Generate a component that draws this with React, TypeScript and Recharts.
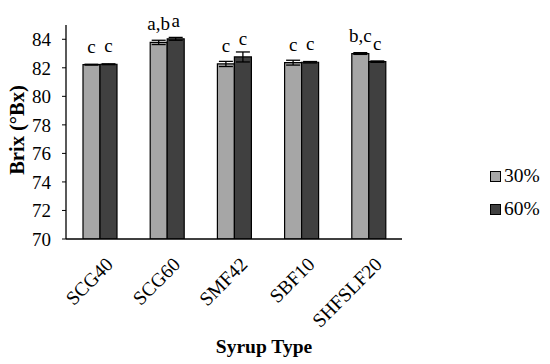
import React from 'react';
import { BarChart, Bar, XAxis, YAxis, ErrorBar, LabelList, Legend } from 'recharts';

const categories = ['SCG40', 'SCG60', 'SMF42', 'SBF10', 'SHFSLF20'];
const brix30 = [82.22, 83.78, 82.27, 82.36, 83.0];
const brix60 = [82.25, 84.03, 82.76, 82.39, 82.43];
const err30 = [0.03, 0.15, 0.18, 0.17, 0.06];
const err60 = [0.03, 0.1, 0.35, 0.05, 0.05];
const sig30 = ['c', 'a,b', 'c', 'c', 'b,c'];
const sig60 = ['c', 'a', 'c', 'c', 'c'];
const yTicks = [70, 72, 74, 76, 78, 80, 82, 84];

const data = categories.map((name, i) => ({
  name,
  v30: brix30[i],
  v60: brix60[i],
  e30: err30[i],
  e60: err60[i],
  s30: sig30[i],
  s60: sig60[i],
}));

const FONT = 'Liberation Serif, Times New Roman, serif';

const XTick = (props: any) => {
  const { x, y, payload } = props;
  return (
    <g transform={`translate(${x + 5},${y + 9})`}>
      <text transform="rotate(-45)" textAnchor="end" dy="0.7em" style={{ fontFamily: FONT }} fontSize={19.5} fill="#000">
        {payload.value}
      </text>
    </g>
  );
};

const LegendContent = () => (
  <div style={{ fontFamily: FONT, fontSize: 19.5, color: '#000' }}>
    {[
      { label: '30%', color: '#a6a6a6' },
      { label: '60%', color: '#404040' },
    ].map((it, i) => (
      <div key={it.label} style={{ display: 'flex', alignItems: 'center', height: 22, marginBottom: i === 0 ? 11 : 0 }}>
        <div style={{ width: 9, height: 9, background: it.color, border: '1px solid #000', marginRight: 3 }} />
        <span>{it.label}</span>
      </div>
    ))}
  </div>
);

export default function App() {
  return (
    <div style={{ position: 'absolute', left: 0, top: 0, background: '#fff', fontFamily: FONT }}>
      <BarChart
        width={550}
        height={364}
        data={data}
        margin={{ top: 25, right: 88, bottom: 0, left: 0 }}
        barCategoryGap={17}
        barGap={0}
        style={{ fontFamily: FONT }}
      >
        <XAxis
          dataKey="name"
          height={125}
          tickLine={false}
          axisLine={{ stroke: '#000', strokeWidth: 1.3 }}
          tick={<XTick />}
          interval={0}
          label={(p: any) => (
            <text x={264} y={353} textAnchor="middle" style={{ fontFamily: FONT }} fontSize={19.5} fontWeight="bold" fill="#000">
              Syrup Type
            </text>
          )}
        />
        <YAxis
          domain={[70, 85]}
          ticks={yTicks}
          width={66}
          tickSize={4}
          tickMargin={11}
          axisLine={{ stroke: '#000', strokeWidth: 1.3 }}
          tickLine={{ stroke: '#000' }}
          tick={{ style: { fontFamily: FONT }, fontSize: 19, fill: '#000' }}
          allowDataOverflow
          label={(p: any) => (
            <text
              x={24}
              y={130}
              transform="rotate(-90, 24, 130)"
              textAnchor="middle"
              style={{ fontFamily: FONT }}
              fontSize={20.5}
              fontWeight="bold"
              fill="#000"
            >
              Brix (°Bx)
            </text>
          )}
        />
        <Legend
          layout="vertical"
          verticalAlign="top"
          align="right"
          content={<LegendContent />}
          wrapperStyle={{ left: 490, top: 165, width: 60 }}
        />
        <Bar dataKey="v30" name="30%" fill="#a6a6a6" stroke="#000" strokeWidth={1.2} isAnimationActive={false}>
          <ErrorBar dataKey="e30" width={7} stroke="#000" strokeWidth={1.3} />
          <LabelList dataKey="s30" position="top" offset={12} style={{ fontFamily: FONT }} fontSize={19} fill="#000" />
        </Bar>
        <Bar dataKey="v60" name="60%" fill="#404040" stroke="#000" strokeWidth={1.2} isAnimationActive={false}>
          <ErrorBar dataKey="e60" width={7} stroke="#000" strokeWidth={1.3} />
          <LabelList dataKey="s60" position="top" offset={12} style={{ fontFamily: FONT }} fontSize={19} fill="#000" />
        </Bar>
      </BarChart>
    </div>
  );
}
